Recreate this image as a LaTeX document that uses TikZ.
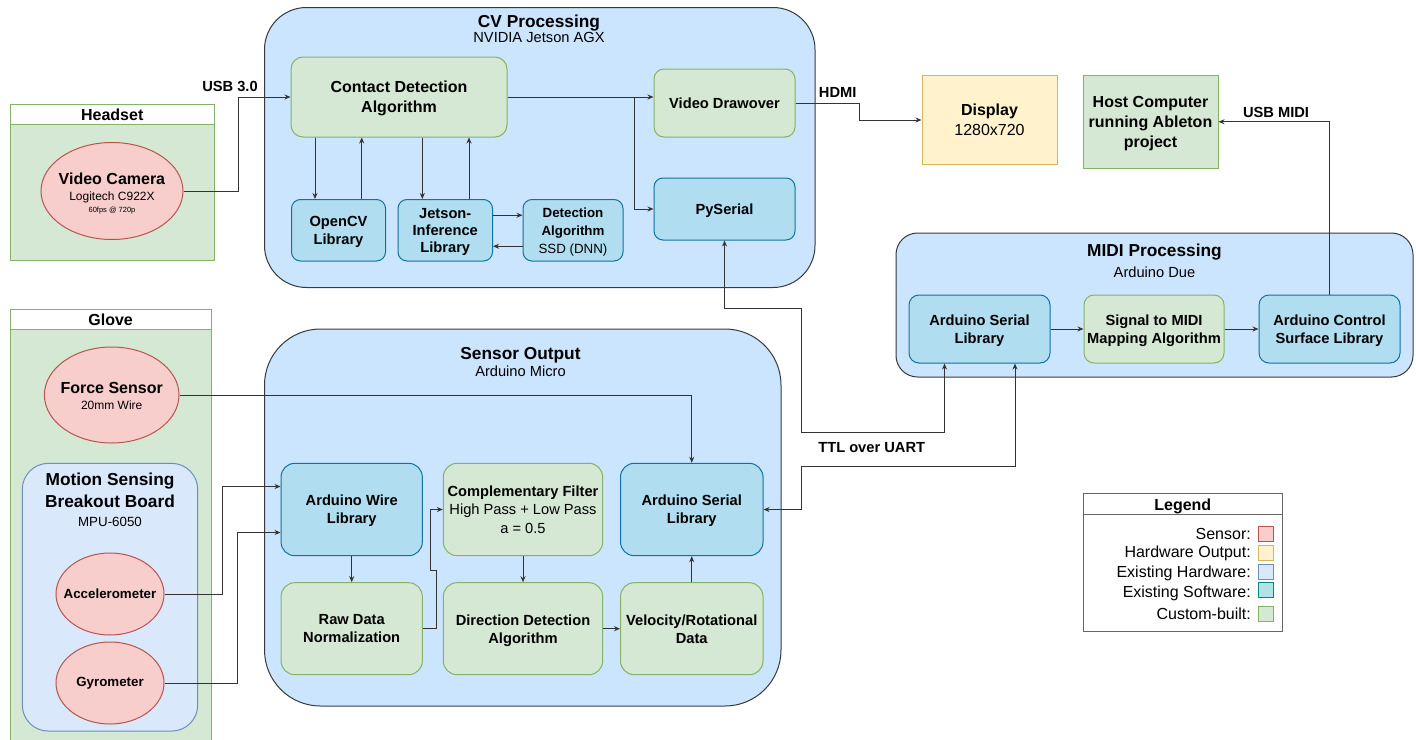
\documentclass[tikz,border=0pt]{standalone}
\usepackage{fontspec}
\setmainfont{Liberation Sans}
\usetikzlibrary{arrows.meta,shapes.geometric}

\definecolor{grpfill}{HTML}{CCE5FF}
\definecolor{grpline}{HTML}{36393D}
\definecolor{libfill}{HTML}{B1DDF0}
\definecolor{libline}{HTML}{10739E}
\definecolor{swfill}{HTML}{B0E3E6}
\definecolor{swline}{HTML}{0E8088}
\definecolor{custfill}{HTML}{D5E8D4}
\definecolor{custline}{HTML}{82B366}
\definecolor{sensfill}{HTML}{F8CECC}
\definecolor{sensline}{HTML}{B85450}
\definecolor{outfill}{HTML}{FFF2CC}
\definecolor{hwoutline}{HTML}{D6B656}
\definecolor{hwfill}{HTML}{DAE8FC}
\definecolor{hwline}{HTML}{6C8EBF}
\definecolor{wire}{HTML}{333333}
\definecolor{legline}{HTML}{666666}

\newcommand{\fsz}[2]{\fontsize{#1}{#2}\selectfont}

\tikzset{
  base/.style={line width=1pt, align=center, inner sep=0pt, text depth=0pt, text=black},
  group/.style={base, draw=grpline, fill=grpfill},
  custom/.style={base, draw=custline, fill=custfill},
  swlib/.style={base, draw=libline, fill=libfill},
  hwbox/.style={base, draw=hwline, fill=hwfill},
  outbox/.style={base, draw=hwoutline, fill=outfill},
  sensor/.style={base, ellipse, draw=sensline, fill=sensfill},
  swatch/.style={line width=1pt, minimum size=15pt, inner sep=0pt},
  link/.style={draw=wire, line width=1pt, -{Stealth[length=6pt,width=5pt]}},
  duplex/.style={draw=wire, line width=1pt, {Stealth[length=6pt,width=5pt]}-{Stealth[length=6pt,width=5pt]}},
  grptitle/.style={inner sep=0pt, text depth=0pt, font=\fsz{17.3}{20}\bfseries},
  grpsub/.style={inner sep=0pt, text depth=0pt, font=\fsz{14.67}{17}},
  lbl/.style={font=\fsz{14.67}{18}\bfseries},
  wirelbl/.style={inner sep=0pt, font=\fsz{14.67}{17}\bfseries},
  legtxt/.style={inner sep=0pt, font=\fsz{16}{18}},
}

\begin{document}
\begin{tikzpicture}[x=1pt,y=-1pt]
  \useasboundingbox (0,0) rectangle (1416,739);

  % headset and glove
  \node (headset) [custom, anchor=north west, minimum width=204.5, minimum height=156.5] at (9.5,103.5) {};
  \node (headsethd) [base, draw=custline, fill=white, anchor=north west, minimum width=204.5, minimum height=20.5, font=\fsz{16}{18}\bfseries] at (9.5,103.5) {Headset};
  \node (cam) [sensor, minimum width=142, minimum height=97] at (112,191) {};
  \node (camtxt) [inner sep=0pt, align=center, font=\fsz{16}{16.2}] at (112,193.5) {\textbf{Video Camera}\\{\fsz{12}{14}Logitech C922X}\\[-3.8pt]{\fsz{7.5}{9}60fps @ 720p}};

  \node (glove) [custom, anchor=north west, minimum width=201.2, minimum height=440] at (9.5,308.5) {};
  \node (glovehd) [base, draw=custline, fill=white, anchor=north west, minimum width=201.2, minimum height=20.8, font=\fsz{16}{18}\bfseries] at (9.5,308.5) {Glove};
  \node (force) [sensor, minimum width=134.6, minimum height=96] at (111.7,395) {};
  \node (forcetxt) [inner sep=0pt, align=center, font=\fsz{16}{16.6}] at (111.7,396) {\textbf{Force Sensor}\\{\fsz{12}{14}20mm Wire}};
  \node (motion) [hwbox, rounded corners=26pt, minimum width=175.4, minimum height=267.7] at (110,597.2) {};
  \node (motiontxt) [inner sep=0pt, align=center, font=\fsz{17.3}{22}\bfseries] at (110,490.5) {Motion Sensing\\Breakout Board};
  \node (mpu) [inner sep=0pt, font=\fsz{13.33}{16}] at (110,521.7) {MPU-6050};
  \node (accel) [sensor, minimum width=108, minimum height=82] at (110,594) {};
  \node (acceltxt) [inner sep=0pt, font=\fsz{13.33}{16}\bfseries] at (110,594) {Accelerometer};
  \node (gyro) [sensor, minimum width=108, minimum height=82] at (110,683) {};
  \node (gyrotxt) [inner sep=0pt, font=\fsz{13.33}{16}\bfseries] at (110,683) {Gyrometer};

  % CV processing
  \node (cv) [group, rounded corners=42pt, minimum width=550.5, minimum height=280] at (539.75,147.5) {};
  \node (cvtitle) [grptitle] at (539,21) {CV Processing};
  \node (cvsub) [grpsub] at (539,37.3) {NVIDIA Jetson AGX};
  \node (contact) [custom, rounded corners=12pt, minimum width=216, minimum height=80, font=\fsz{16}{20}\bfseries] at (399,97) {Contact Detection\\Algorithm};
  \node (drawover) [custom, rounded corners=10pt, minimum width=141, minimum height=68, lbl] at (724.5,103) {Video Drawover};
  \node (pysrl) [swlib, rounded corners=9pt, minimum width=141, minimum height=62, lbl] at (724.5,209) {PySerial};
  \node (opencv) [swlib, rounded corners=9pt, minimum width=94, minimum height=61.5, lbl] at (338.5,230.25) {OpenCV\\Library};
  \node (jetson) [swlib, rounded corners=9pt, minimum width=94.5, minimum height=61.5, font=\fsz{14.67}{17}\bfseries] at (445.25,230.25) {Jetson-\\Inference\\Library};
  \node (detect) [swlib, rounded corners=9pt, minimum width=100, minimum height=61.5, font=\fsz{13.33}{18}] at (573,230.25) {\textbf{Detection}\\\textbf{Algorithm}\\SSD (DNN)};

  % outputs
  \node (display) [outbox, minimum width=135, minimum height=89, font=\fsz{16}{20}] at (989.5,120) {\textbf{Display}\\1280x720};
  \node (host) [custom, minimum width=135, minimum height=92.5, font=\fsz{16}{20}\bfseries] at (1150.5,121.75) {Host Computer\\running Ableton\\project};

  % MIDI processing
  \node (midi) [group, rounded corners=21.6pt, minimum width=517, minimum height=144] at (1154.5,305) {};
  \node (midititle) [grptitle] at (1154.5,250.5) {MIDI Processing};
  \node (midisub) [grpsub] at (1154.5,272) {Arduino Due};
  \node (mserial) [swlib, rounded corners=10pt, minimum width=141, minimum height=68, lbl] at (979.5,329) {Arduino Serial\\Library};
  \node (signal) [custom, rounded corners=10pt, minimum width=140, minimum height=68, lbl] at (1154,329) {Signal to MIDI\\Mapping Algorithm};
  \node (ctrl) [swlib, rounded corners=10pt, minimum width=141, minimum height=68, lbl] at (1329.5,329) {Arduino Control\\Surface Library};

  % sensor output
  \node (sensout) [group, rounded corners=56pt, minimum width=516.5, minimum height=377] at (522.75,517.5) {};
  \node (sensouttitle) [grptitle] at (520.5,353) {Sensor Output};
  \node (sensoutsub) [grpsub] at (520.5,371) {Arduino Micro};
  \node (wire) [swlib, rounded corners=13.8pt, minimum width=141.3, minimum height=92.4, lbl] at (351.7,509.5) {Arduino Wire\\Library};
  \node (comp) [custom, rounded corners=13.8pt, minimum width=159.4, minimum height=92.4, font=\fsz{14.67}{18.3}] at (523,509.5) {\textbf{Complementary Filter}\\High Pass + Low Pass\\a = 0.5};
  \node (sserial) [swlib, rounded corners=13.8pt, minimum width=142.5, minimum height=92.4, lbl] at (691.75,509.5) {Arduino Serial\\Library};
  \node (raw) [custom, rounded corners=13.8pt, minimum width=141.3, minimum height=92, lbl] at (351.7,628.7) {Raw Data\\Normalization};
  \node (dirdet) [custom, rounded corners=13.8pt, minimum width=159.4, minimum height=92, lbl] at (523,628.7) {Direction Detection\\Algorithm};
  \node (velo) [custom, rounded corners=13.8pt, minimum width=142.5, minimum height=92, lbl] at (691.75,628.7) {Velocity/Rotational\\Data};

  % legend
  \node (legend) [base, draw=legline, fill=white, anchor=north west, minimum width=199, minimum height=137.4] at (1083.3,493.3) {};
  \draw[legline, line width=1pt] ([yshift=-21pt]legend.north west) -- ([yshift=-21pt]legend.north east);
  \node (legendtitle) [inner sep=0pt, text depth=0pt, font=\fsz{16}{18}\bfseries] at (1182.8,505) {Legend};
  \node (swsens) [swatch, draw=sensline, fill=sensfill] at (1265.8,534) {};
  \node (txsens) [legtxt, anchor=base east] at (1251,539.1) {Sensor:};
  \node (swout) [swatch, draw=hwoutline, fill=outfill] at (1265.8,553) {};
  \node (txout) [legtxt, anchor=base east] at (1251,557.5) {Hardware Output:};
  \node (swhw) [swatch, draw=hwline, fill=hwfill] at (1265.8,571.5) {};
  \node (txhw) [legtxt, anchor=base east] at (1251,577.5) {Existing Hardware:};
  \node (swsw) [swatch, draw=swline, fill=swfill] at (1265.8,590) {};
  \node (txsw) [legtxt, anchor=base east] at (1251,597.5) {Existing Software:};
  \node (swcust) [swatch, draw=custline, fill=custfill] at (1265.8,614) {};
  \node (txcust) [legtxt, anchor=base east] at (1251,619.1) {Custom-built:};

  % connectors
  \draw[link] (cam.east) -- ++(54.7,0) |- (contact.west);
  \node (usb) [wirelbl] at (230,86) {USB 3.0};
  \draw[link] ([xshift=-84pt]contact.south) -- ([xshift=-23.5pt]opencv.north);
  \draw[link] ([xshift=23.2pt]opencv.north) -- ([xshift=-37.3pt]contact.south);
  \draw[link] ([xshift=23.3pt]contact.south) -- ([xshift=-22.95pt]jetson.north);
  \draw[link] ([xshift=23.75pt]jetson.north) -- ([xshift=70pt]contact.south);
  \draw[link] ([yshift=15pt]jetson.east) -- ([yshift=15pt]detect.west);
  \draw[link] ([yshift=-16pt]detect.west) -- ([yshift=-16pt]jetson.east);
  \draw[link] (contact.east) -- (contact.east -| drawover.west);
  \draw[link] (contact.east) -- ++(127,0) |- (pysrl.west);
  \draw[link] (drawover.east) -- ++(63.5,0) |- (display.west);
  \node (hdmi) [wirelbl] at (837.7,92.7) {HDMI};
  \draw[link] (ctrl.north) |- (host.east);
  \node (usbmidi) [wirelbl] at (1276,112.7) {USB MIDI};
  \draw[link] (mserial.east) -- (signal.west);
  \draw[link] (signal.east) -- (ctrl.west);

  \draw[duplex] (pysrl.south) -- ++(0,68) -| (801,432) -| ([xshift=-35pt]mserial.south);
  \draw[duplex] (sserial.east) -| (801,466) -| ([xshift=35.5pt]mserial.south);
  \node (ttl) [wirelbl] at (871.7,448) {TTL over UART};

  \draw[link] (force.east) -| (sserial.north);
  \draw[link] (accel.east) -- ++(58.3,0) |- ([yshift=23pt]wire.west);
  \draw[link] (gyro.east) -- ++(73.3,0) |- ([yshift=-23pt]wire.west);
  \draw[link] (wire.south) -- (raw.north);
  \draw[link] (raw.east) -- ++(13.5,0) |- (430,570) |- (comp.west);
  \draw[link] (comp.south) -- (dirdet.north);
  \draw[link] (dirdet.east) -- (velo.west);
  \draw[link] (velo.north) -- (sserial.south);
\end{tikzpicture}
\end{document}
